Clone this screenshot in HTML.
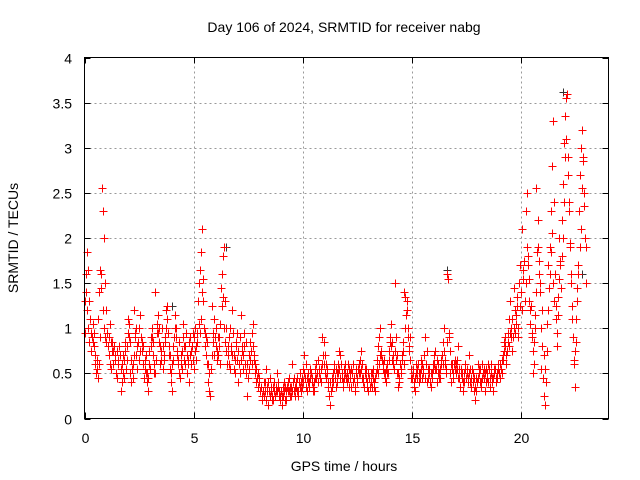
<!DOCTYPE html>
<html><head><meta charset="utf-8"><style>
html,body{margin:0;padding:0;background:#fff}
svg{display:block;font-family:"Liberation Sans",sans-serif}
</style></head><body>
<svg id="chart" width="640" height="480" viewBox="0 0 640 480" xmlns="http://www.w3.org/2000/svg">
<rect width="640" height="480" fill="#fff"/>
<text x="344" y="32" text-anchor="middle" font-size="14">Day 106 of 2024, SRMTID for receiver nabg</text>
<text x="344" y="471" text-anchor="middle" font-size="14">GPS time / hours</text>
<text transform="translate(18,238) rotate(-90)" text-anchor="middle" font-size="14">SRMTID / TECUs</text>
<g id="grid"></g>
<g id="ticks"></g>
<g id="marks" shape-rendering="crispEdges"></g>
<rect x="84.5" y="57.5" width="524" height="361" fill="none" stroke="#000" stroke-width="1"/>
</svg>
<script>
const xTicks = [0,5,10,15,20];
const yTicks = [0,0.5,1,1.5,2,2.5,3,3.5,4];
const yTickLabels = ["0","0.5","1","1.5","2","2.5","3","3.5","4"];
const startHour = 0;
const sampleStep = 0.05;
const tec = [
0.95,1.4,1.85,1.65,1.3,1.1,0.95,0.9,0.85,0.8,0.7,0.55,0.45,0.6,0.9,1.6,2.55,2.3,2.0,1.5,
1.2,0.95,0.9,1.05,0.85,0.75,0.6,0.8,0.7,0.5,0.75,0.65,0.8,0.3,0.6,0.7,0.45,0.85,0.55,0.65,
1.1,0.9,0.5,0.4,0.6,1.2,0.95,0.7,0.55,0.85,1.0,1.15,0.9,0.75,0.8,0.65,0.5,0.4,0.3,0.6,
0.55,0.8,0.9,0.7,0.5,1.4,1.05,0.95,0.85,0.6,0.75,1.0,0.8,0.65,0.9,1.2,1.25,0.8,0.7,0.4,
0.3,0.65,0.9,1.15,1.0,0.75,0.6,0.85,0.7,0.55,1.05,0.65,0.8,0.95,0.7,0.6,0.4,0.9,0.75,0.65,
0.55,1.0,0.8,0.95,1.3,1.5,1.65,1.85,2.1,1.3,0.95,0.9,0.6,0.4,0.3,0.25,0.55,1.25,0.85,0.7,
1.0,0.75,0.9,0.8,0.6,1.45,1.6,1.8,1.9,1.3,1.0,0.8,0.6,0.55,0.75,1.2,0.95,0.7,0.5,0.85,
0.65,0.4,0.9,1.15,0.75,0.55,0.8,0.6,0.5,0.25,0.45,0.7,0.85,0.95,1.05,0.65,0.6,0.55,0.45,0.5,
0.4,0.3,0.35,0.2,0.25,0.4,0.55,0.3,0.15,0.3,0.45,0.35,0.25,0.2,0.4,0.3,0.5,0.35,0.25,0.2,
0.3,0.15,0.25,0.4,0.35,0.2,0.3,0.45,0.35,0.25,0.6,0.4,0.3,0.25,0.35,0.45,0.3,0.5,0.4,0.35,
0.55,0.7,0.45,0.35,0.3,0.5,0.4,0.55,0.45,0.35,0.3,0.45,0.6,0.5,0.65,0.55,0.45,0.4,0.9,0.85,
0.7,0.6,0.5,0.4,0.25,0.15,0.3,0.45,0.5,0.6,0.55,0.4,0.5,0.75,0.7,0.6,0.45,0.35,0.55,0.5,
0.4,0.6,0.55,0.45,0.35,0.5,0.6,0.45,0.3,0.55,0.4,0.5,0.65,0.75,0.6,0.45,0.35,0.5,0.55,0.4,
0.3,0.45,0.5,0.35,0.55,0.4,0.3,0.5,0.65,0.8,0.9,1.0,0.7,0.6,0.5,0.45,0.55,0.6,0.5,0.75,
0.9,1.05,0.85,0.7,1.5,0.65,0.5,0.35,0.45,0.6,0.55,0.7,0.85,1.4,1.35,1.2,1.0,0.8,0.9,0.55,
0.45,0.5,0.35,0.3,0.6,0.55,0.4,0.5,0.65,0.45,0.55,0.7,0.9,0.6,0.4,0.45,0.55,0.35,0.5,0.6,
0.7,0.75,0.55,0.4,0.6,0.5,0.45,0.65,0.85,1.0,0.6,0.55,1.6,1.55,0.95,0.5,0.4,0.6,0.45,0.55,
0.5,0.65,0.8,0.45,0.35,0.55,0.5,0.3,0.4,0.6,0.55,0.45,0.7,0.4,0.35,0.55,0.5,0.3,0.2,0.45,
0.6,0.55,0.4,0.35,0.6,0.5,0.45,0.3,0.55,0.5,0.4,0.35,0.6,0.45,0.3,0.5,0.55,0.4,0.45,0.6,
0.5,0.45,0.65,0.7,0.85,0.9,0.6,0.75,0.95,1.1,1.3,1.0,0.75,1.45,1.2,1.05,1.35,0.9,1.5,1.7,
1.4,2.1,1.55,1.75,2.3,2.5,1.8,1.3,1.05,1.25,0.95,0.5,0.85,1.15,2.55,2.2,1.6,1.4,0.55,1.2,
0.45,0.25,0.15,0.4,1.05,1.7,1.9,2.3,2.8,3.3,2.4,1.6,1.25,0.8,1.35,2.0,1.75,2.2,2.6,3.05,
3.35,3.55,3.6,2.9,2.4,1.95,1.5,1.1,0.65,0.35,0.85,1.3,1.7,2.3,2.7,3.0,3.2,2.85,2.35,1.9
];
const tec2 = [
1.3,1.6,1.2,1.0,0.85,0.75,0.9,1.05,0.95,0.6,0.5,0.65,1.1,1.4,1.65,1.45,1.2,1.0,0.9,0.85,
0.95,0.8,0.7,0.6,0.55,0.85,0.75,0.65,0.5,0.45,0.6,0.8,0.7,0.55,0.4,0.5,0.65,0.75,0.8,0.95,
1.05,0.85,0.65,0.55,0.45,0.7,0.9,1.0,0.8,0.65,0.75,0.9,0.85,0.6,0.45,0.55,0.7,0.5,0.45,0.75,
0.9,1.0,0.85,0.6,0.5,0.65,0.95,1.15,1.0,0.8,0.65,0.55,0.7,0.85,1.0,1.1,0.95,0.7,0.55,0.5,
0.6,0.8,1.0,0.9,0.7,0.65,0.5,0.45,0.6,0.75,0.9,0.8,0.6,0.5,0.65,0.85,0.7,0.6,0.8,0.95,
0.9,0.75,0.65,0.85,1.05,0.95,1.1,1.4,1.55,1.0,0.8,0.7,0.85,0.6,0.5,0.55,0.7,0.95,1.1,0.9,
0.8,0.65,0.7,0.9,1.05,1.25,1.35,1.0,0.85,0.75,0.6,0.7,0.9,1.0,0.8,0.7,0.55,0.65,0.8,0.95,
0.75,0.6,0.5,0.65,0.8,0.7,0.95,0.85,0.6,0.45,0.55,0.65,0.75,0.6,0.8,0.7,0.5,0.4,0.35,0.45,
0.3,0.35,0.25,0.3,0.4,0.3,0.2,0.35,0.4,0.25,0.3,0.2,0.35,0.3,0.25,0.35,0.3,0.4,0.3,0.25,
0.25,0.35,0.3,0.2,0.3,0.35,0.4,0.3,0.25,0.35,0.3,0.45,0.35,0.4,0.3,0.25,0.4,0.35,0.3,0.45,
0.4,0.5,0.6,0.45,0.4,0.35,0.45,0.5,0.4,0.3,0.4,0.55,0.45,0.4,0.5,0.45,0.55,0.6,0.7,0.6,
0.5,0.45,0.55,0.35,0.4,0.3,0.35,0.4,0.55,0.45,0.35,0.5,0.6,0.55,0.45,0.5,0.4,0.45,0.6,0.45,
0.5,0.45,0.35,0.5,0.55,0.4,0.45,0.35,0.5,0.45,0.55,0.6,0.5,0.55,0.45,0.4,0.55,0.45,0.35,0.5,
0.45,0.35,0.4,0.5,0.45,0.35,0.45,0.55,0.5,0.6,0.7,0.75,0.65,0.55,0.65,0.5,0.4,0.5,0.65,0.85,
0.8,0.65,0.6,0.55,0.75,0.9,0.7,0.5,0.4,0.5,0.65,0.75,0.6,1.0,1.15,1.3,0.9,0.75,0.65,0.45,
0.55,0.4,0.45,0.5,0.45,0.6,0.5,0.45,0.55,0.6,0.5,0.45,0.6,0.75,0.55,0.5,0.4,0.5,0.45,0.55,
0.6,0.55,0.65,0.5,0.45,0.55,0.6,0.7,0.6,0.75,0.65,0.5,0.85,0.9,0.75,0.6,0.55,0.5,0.6,0.65,
0.6,0.55,0.45,0.55,0.5,0.45,0.4,0.5,0.55,0.45,0.5,0.4,0.5,0.55,0.45,0.4,0.45,0.35,0.3,0.4,
0.45,0.5,0.55,0.4,0.45,0.55,0.5,0.4,0.45,0.6,0.55,0.45,0.5,0.4,0.45,0.55,0.45,0.5,0.55,0.5,
0.6,0.55,0.5,0.65,0.75,0.8,0.7,0.85,0.8,0.95,0.9,1.1,0.9,1.0,0.95,1.15,1.25,1.0,1.25,1.4,
1.2,1.65,1.75,1.3,1.5,1.9,1.7,1.55,1.2,0.9,0.75,0.6,1.0,1.4,1.85,1.9,1.75,1.5,1.0,0.8,
0.7,0.55,0.4,0.75,1.2,1.45,1.6,1.85,2.05,1.5,1.3,1.1,0.95,1.15,1.55,1.7,1.45,1.8,2.0,2.4,
2.9,3.1,2.7,2.3,1.9,1.6,1.25,0.9,0.6,0.75,1.1,1.45,1.6,1.9,2.1,2.55,2.9,2.5,2.0,1.5
];
const otherHours = [6.5,16.6,21.9,22.8,4.0,12.3];
const otherTec = [1.9,1.65,3.62,1.6,1.25,0.6];

const X0=84.5, X1=608.5, Y0=418.5, Y1=57.5, XMAX=24, YMAX=4;
const xs = h => X0 + (X1-X0)*h/XMAX;
const ys = v => Y0 - (Y0-Y1)*v/YMAX;
const NS="http://www.w3.org/2000/svg";
function mk(tag, attrs, parent){const e=document.createElementNS(NS,tag);for(const k in attrs)e.setAttribute(k,attrs[k]);parent.appendChild(e);return e;}
const grid=document.getElementById('grid'), ticks=document.getElementById('ticks'), marks=document.getElementById('marks');

yTicks.forEach((v,i)=>{
  const y=Math.round(ys(v))+0.5;
  if(v>0&&v<YMAX){const g=mk('line',{x1:X0,x2:X1,y1:y,y2:y,stroke:'#999','stroke-dasharray':'2,3'},grid);
  
  }
  mk('line',{x1:X0,x2:X0+6,y1:y,y2:y,stroke:'#000'},ticks);
  mk('line',{x1:X1-6,x2:X1,y1:y,y2:y,stroke:'#000'},ticks);
  const t=mk('text',{x:72,y:y+5,'text-anchor':'end','font-size':14},ticks);
  t.textContent=yTickLabels[i];
  
  
});
xTicks.forEach(h=>{
  const x=Math.round(xs(h))+0.5;
  if(h>0){const g=mk('line',{x1:x,x2:x,y1:Y0,y2:Y1,stroke:'#999','stroke-dasharray':'2,3'},grid);
  
  }
  mk('line',{x1:x,x2:x,y1:Y0,y2:Y0-6,stroke:'#000'},ticks);
  mk('line',{x1:x,x2:x,y1:Y1,y2:Y1+6,stroke:'#000'},ticks);
  const t=mk('text',{x:x,y:443,'text-anchor':'middle','font-size':14},ticks);
  t.textContent=String(h);
  
  
});
function plus(h,v,color,name){
  const x=Math.round(xs(h))+0.5, y=Math.round(ys(v))+0.5;
  const p=mk('path',{d:`M${x-4},${y}H${x+4}M${x},${y-4}V${y+4}`,stroke:color,'stroke-width':1,fill:'none'},marks);
  
  
}
otherHours.forEach((h,i)=>plus(h,otherTec[i],'#333','secondary-point'));
tec.forEach((v,i)=>plus(startHour+i*sampleStep,v,'#ff0000','srmtid-point'));
tec2.forEach((v,i)=>plus(startHour+sampleStep/2+i*sampleStep,v,'#ff0000','srmtid-point-b'));
</script>
</body></html>
